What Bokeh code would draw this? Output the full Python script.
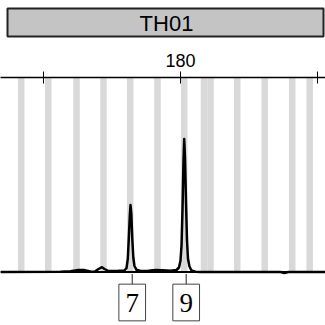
from bokeh.plotting import figure
from bokeh.models import Range1d, LinearAxis, FixedTicker, ColumnDataSource, Span
from bokeh.layouts import column
from bokeh.core.properties import value
from bokeh.embed import file_html
from bokeh.resources import INLINE

# ---- data ----
marker = "TH01"
axis_ticks = [160, 180, 200]
tick_labels = {160: "", 180: "180", 200: ""}

# bin (allele ladder) centres, bp
bin_sizes = [156.74, 160.69, 164.82, 168.76, 172.66, 176.64, 180.54,
             183.43, 184.38, 188.28, 192.29, 196.31, 198.86]
bin_width = 0.95

# electropherogram trace (size bp, RFU)
trace_size = [153.72, 162.48, 163.94, 165.11, 165.99, 166.86, 167.45, 168.03,
              168.54, 168.91, 169.49, 170.95, 171.82, 172.12, 172.31, 172.45,
              172.60, 172.70, 172.82, 172.96, 173.11, 173.28, 173.58, 174.16,
              175.33, 176.35, 177.37, 178.54, 179.42, 179.78, 180.00, 180.15,
              180.29, 180.44, 180.54, 180.66, 180.80, 180.95, 181.09, 181.31,
              181.61, 182.19, 182.92, 194.60, 195.18, 195.77, 201.17]
trace_rfu = [0, 2, 7, 20, 19, 5, 2, 30,
             48, 30, 10, 12, 15, 40, 135, 335,
             565, 670, 585, 335, 145, 60, 22, 10,
             13, 20, 17, 12, 20, 45, 115, 265,
             615, 1115, 1330, 1135, 715, 315, 135, 55,
             15, 3, 0, 0, -10, 0, 0]

# allele calls
allele_names = ["7", "9"]
allele_call_size = [172.95, 180.83]

# ---- marker header (title box) ----
head = figure(width=325, height=40, output_backend="svg", toolbar_location=None,
              x_range=Range1d(0, 325), y_range=Range1d(40, 0),
              x_axis_location=None, y_axis_location=None,
              min_border=0, background_fill_color="white", border_fill_color="white")
head.outline_line_color = None
head.grid.visible = False
head.quad(left=[7], right=[323], top=[8], bottom=[36], fill_color="#c4c4c4",
          line_color="#222222", line_width=2)
head.text(x=[166], y=[22.5], text=[marker], text_align="center", text_baseline="middle",
          text_font=value("Liberation Sans"), text_font_size="22px", text_color="black")

# ---- electropherogram ----
p = figure(width=325, height=285, output_backend="svg", toolbar_location=None,
           x_range=Range1d(153.72, 201.17), y_range=Range1d(-535, 1945),
           x_axis_location=None, y_axis_location=None,
           min_border_left=0, min_border_right=0, min_border_bottom=0,
           min_border_top=37, background_fill_color="white",
           border_fill_color="white")
p.outline_line_color = None
p.grid.visible = False

ax = LinearAxis(ticker=FixedTicker(ticks=axis_ticks, minor_ticks=[]),
                major_label_overrides=tick_labels)
ax.axis_line_width = 1.5
ax.axis_line_color = "black"
ax.major_tick_in = 6
ax.major_tick_out = 6
ax.major_tick_line_color = "black"
ax.major_tick_line_width = 1
ax.minor_tick_line_color = None
ax.major_label_standoff = 5
ax.major_label_text_font = "Liberation Sans"
ax.major_label_text_font_size = "18px"
ax.major_label_text_color = "black"
p.add_layout(ax, "above")

# bins
p.quad(left=[b - bin_width / 2 for b in bin_sizes],
       right=[b + bin_width / 2 for b in bin_sizes],
       bottom=0, top=1945, fill_color="#d9d9d9", line_color=None)

# baseline
p.add_layout(Span(location=0, dimension="width", line_color="black", line_width=1.8))

# trace
p.line(trace_size, trace_rfu, line_color="black", line_width=2.5, line_join="round")

# allele call boxes
src = ColumnDataSource(dict(x=allele_call_size, name=allele_names))
p.segment(x0="x", x1="x", y0=-20, y1=-125, source=src, line_color="#222222", line_width=1)
p.rect(x="x", y=-305, width=26.7, height=36.7, width_units="screen",
       height_units="screen", source=src, fill_color="white", line_color="#444444",
       line_width=1)
p.text(x="x", y=-305, text="name", source=src, text_align="center",
       text_baseline="middle", text_font=value("Liberation Serif"),
       text_font_size="27px", text_color="black")

layout = column(head, p, spacing=0)
open("out.html", "w").write(file_html(layout, INLINE))
